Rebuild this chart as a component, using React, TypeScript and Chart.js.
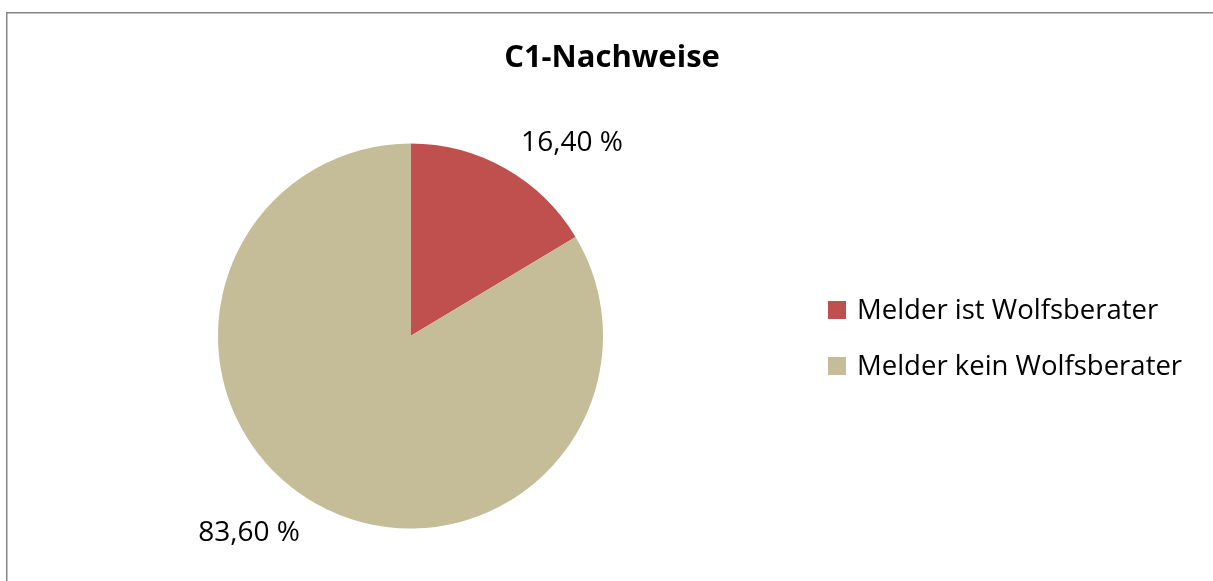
import React, { useEffect, useRef } from "react";
import { Chart, registerables } from "chart.js";

Chart.register(...registerables);

const title = "C1-Nachweise";
const categories = ["Melder ist Wolfsberater", "Melder kein Wolfsberater"];
const shares = [16.4, 83.6];
const shareLabels = ["16,40 %", "83,60 %"];
const sliceColors = ["#C0504D", "#C4BD97"];

const FONT = "'Open Sans', Lato, 'DejaVu Sans', sans-serif";

const overlayPlugin = {
  id: "overlay",
  afterDraw(chart: any) {
    const ctx: CanvasRenderingContext2D = chart.ctx;
    ctx.save();
    // frame
    ctx.strokeStyle = "#868686";
    ctx.lineWidth = 1.5;
    ctx.strokeRect(6.75, 12.75, 1400, 800);

    // title
    ctx.fillStyle = "#000000";
    ctx.font = `bold 31px ${FONT}`;
    ctx.textAlign = "center";
    ctx.textBaseline = "alphabetic";
    ctx.fillText(title, 612, 67);

    // data labels
    const meta = chart.getDatasetMeta(0);
    ctx.font = `28px ${FONT}`;
    meta.data.forEach((arc: any, i: number) => {
      const p = arc.getProps(["x", "y", "startAngle", "endAngle", "outerRadius"], true);
      const mid = (p.startAngle + p.endAngle) / 2;
      const r = p.outerRadius + 32;
      const ax = p.x + Math.cos(mid) * r;
      const ay = p.y + Math.sin(mid) * r;
      ctx.textAlign = Math.cos(mid) >= 0 ? "left" : "right";
      ctx.textBaseline = "alphabetic";
      ctx.fillText(shareLabels[i], ax, ay + 10);
    });

    // legend
    const labels = chart.data.labels as string[];
    const colors = chart.data.datasets[0].backgroundColor as string[];
    ctx.font = `27.5px ${FONT}`;
    ctx.textAlign = "left";
    labels.forEach((lab, i) => {
      const top = 301 + i * 56;
      ctx.fillStyle = colors[i];
      ctx.fillRect(828, top, 18, 18);
      ctx.fillStyle = "#000000";
      ctx.fillText(lab, 857, top + 18);
    });
    ctx.restore();
  },
};

export default function App() {
  const ref = useRef<HTMLCanvasElement | null>(null);
  useEffect(() => {
    if (!ref.current) return;
    const chart = new Chart(ref.current, {
      type: "pie",
      data: {
        labels: categories,
        datasets: [
          {
            data: shares,
            backgroundColor: sliceColors,
            borderWidth: 0,
          },
        ],
      },
      options: {
        responsive: false,
        animation: false,
        layout: { padding: { left: 218, right: 610, top: 143.5, bottom: 52.5 } },
        plugins: {
          legend: { display: false },
          title: { display: false },
          tooltip: { enabled: false },
        },
      },
      plugins: [overlayPlugin],
    });
    return () => chart.destroy();
  }, []);
  return (
    <div style={{ position: "absolute", left: 0, top: 0, width: 1213, height: 581, background: "#fff", overflow: "hidden" }}>
      <canvas ref={ref} width={1213} height={581} style={{ display: "block" }} />
    </div>
  );
}
